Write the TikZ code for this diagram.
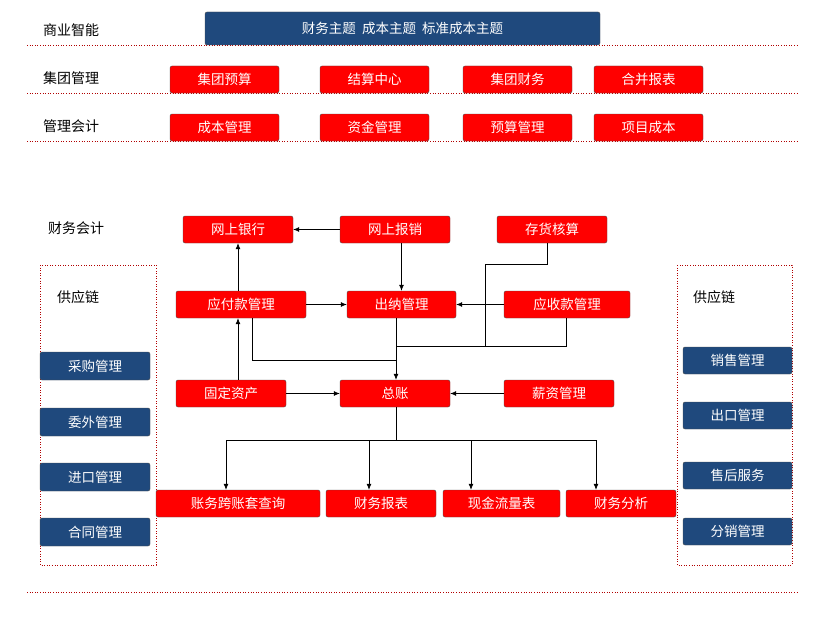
\documentclass[tikz,border=0pt]{standalone}
\usepackage{fontspec}
\setmainfont{Noto Sans CJK SC}
\usetikzlibrary{arrows.meta}
\definecolor{bblue}{HTML}{1F497D}
\tikzset{
 box/.style={draw=black!70,rounded corners=2pt,inner sep=0pt,font=\fontsize{13.5}{14}\selectfont,text=white},
 rbox/.style={box,fill=red},
 bbox/.style={box,fill=bblue},
 lab/.style={font=\fontsize{14}{15}\selectfont,anchor=west,inner sep=0pt},
 dl/.style={draw=red!70!black,dotted,line width=0.6pt},
 arr/.style={-{Latex[length=6pt,width=5pt]},line width=0.7pt},
 ln/.style={line width=0.7pt}
}
\newcommand{\bx}[6]{\node[#1,minimum width={(#4-#3)*1pt},minimum height={(#6-#5)*1pt}] (#2) at ({(#3+#4)/2*1pt},{-(#5+#6)/2*1pt})}
\begin{document}
\begin{tikzpicture}[x=1pt,y=-1pt]
\useasboundingbox (0,0) rectangle (816,618);
\foreach \yy in {45,93,141,592} \draw[dl] (27,\yy) -- (798,\yy);
\bx{bbox}{bi}{205}{600}{12}{45} {财务主题\ \ 成本主题\ \ 标准成本主题};
\node[lab] (l1) at (43,30) {商业智能};
\node[lab] (l2) at (43,78) {集团管理};
\node[lab] (l3) at (43,126) {管理会计};
\node[lab] (l4) at (48,228) {财务会计};
\bx{rbox}{a1}{170}{279}{66}{93} {集团预算};
\bx{rbox}{a2}{320}{429}{66}{93} {结算中心};
\bx{rbox}{a3}{463}{572}{66}{93} {集团财务};
\bx{rbox}{a4}{594}{703}{66}{93} {合并报表};
\bx{rbox}{b1}{170}{279}{114}{141} {成本管理};
\bx{rbox}{b2}{320}{429}{114}{141} {资金管理};
\bx{rbox}{b3}{463}{572}{114}{141} {预算管理};
\bx{rbox}{b4}{594}{703}{114}{141} {项目成本};
% supply chains
\draw[dl] (40,265) rectangle (156,565);
\draw[dl] (677,265) rectangle (792,565);
\node[lab] (sl) at (57,297) {供应链};
\node[lab] (sr) at (693,297) {供应链};
\bx{bbox}{p1}{40}{150}{352}{380} {采购管理};
\bx{bbox}{p2}{40}{150}{408}{436} {委外管理};
\bx{bbox}{p3}{40}{150}{463}{491} {进口管理};
\bx{bbox}{p4}{40}{150}{518}{546} {合同管理};
\bx{bbox}{q1}{683}{792}{347}{374} {销售管理};
\bx{bbox}{q2}{683}{792}{402}{429} {出口管理};
\bx{bbox}{q3}{683}{792}{462}{489} {售后服务};
\bx{bbox}{q4}{683}{792}{518}{545} {分销管理};
% center
\bx{rbox}{wy}{183}{293}{216}{243} {网上银行};
\bx{rbox}{wb}{340}{450}{216}{243} {网上报销};
\bx{rbox}{ch}{497}{607}{216}{243} {存货核算};
\bx{rbox}{yf}{176}{306}{291}{318} {应付款管理};
\bx{rbox}{cn}{347}{456}{291}{318} {出纳管理};
\bx{rbox}{ys}{504}{630}{291}{318} {应收款管理};
\bx{rbox}{gd}{176}{286}{380}{407} {固定资产};
\bx{rbox}{zz}{340}{450}{380}{407} {总账};
\bx{rbox}{xz}{504}{614}{380}{407} {薪资管理};
\bx{rbox}{c1}{156}{320}{490}{517} {账务跨账套查询};
\bx{rbox}{c2}{326}{436}{490}{517} {财务报表};
\bx{rbox}{c3}{443}{560}{490}{517} {现金流量表};
\bx{rbox}{c4}{566}{676}{490}{517} {财务分析};
\coordinate (j1) at (396,346);
\coordinate (j2) at (396,440);
\draw[arr] (wb.west) -- (wy.east);
\draw[arr] (yf.north -| 238,0) -- (wy.south -| 238,0);
\draw[arr] (wb.south -| cn.north) -- (cn.north);
\draw[arr] (yf.east) -- (cn.west);
\draw[arr] (ys.west) -- (cn.east);
\draw[ln] (ch.south -| 547,0) -- (547,264) -- (485,264) -- (485,346);
\draw[ln] (ys.south -| 566,0) -- (566,346) -- (j1);
\draw[ln] (cn.south -| j1) -- (j1);
\draw[ln] (yf.south -| 252,0) -- (252,360) -- (396,360);
\draw[arr] (j1) -- (zz.north -| j1);
\draw[arr] (gd.north -| 238,0) -- (yf.south -| 238,0);
\draw[arr] (gd.east) -- (zz.west);
\draw[arr] (xz.west) -- (zz.east);
\draw[ln] (zz.south -| j2) -- (j2);
\draw[ln] (226,440) -- (596,440);
\foreach \xx/\n in {226/c1,369/c2,471/c3,596/c4} \draw[arr] (\xx,440) -- (\n.north -| \xx,0);
\end{tikzpicture}
\end{document}
